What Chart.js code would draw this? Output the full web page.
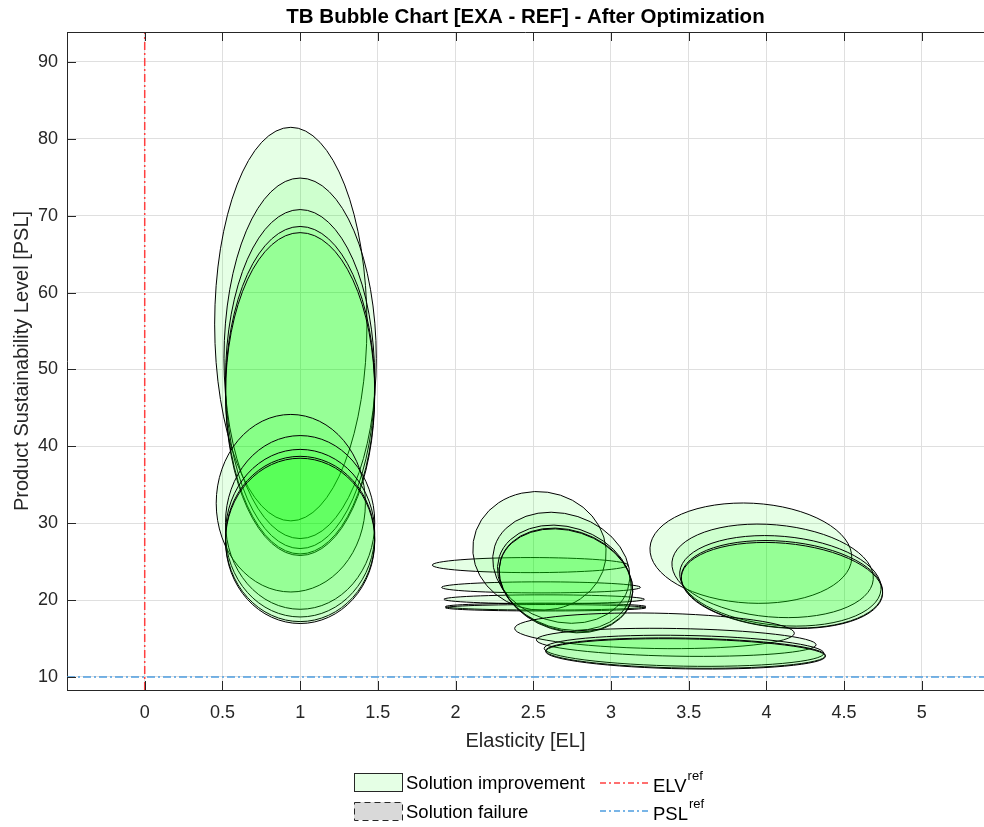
<!DOCTYPE html>
<html>
<head>
<meta charset="utf-8">
<script src="https://cdn.jsdelivr.net/npm/chart.js@4.4.1/dist/chart.umd.min.js"></script>
<style>
  html, body { margin: 0; padding: 0; background: #fff; }
  #wrap { width: 984px; height: 827px; }
</style>
</head>
<body>
<div id="wrap"><canvas id="bubbleChart"></canvas></div>
<script>
// Bubbles: centre (EL, PSL), half-axes in axis units, tilt in degrees
const centerEL = [0.94, 1.00, 1.00, 1.00, 1.00,
                  0.94, 1.00, 1.00, 1.00, 1.00,
                  2.48, 2.55, 2.57, 2.58, 2.58,
                  2.54, 2.68, 2.70, 2.71, 2.71,
                  3.90, 4.04, 4.09, 4.10, 4.10,
                  3.28, 3.42, 3.47, 3.48, 3.48];
const centerPSL = [55.9, 51.45, 48.75, 47.3, 46.8,
                   32.6, 30.1, 28.7, 27.95, 27.7,
                   24.55, 21.65, 20.1, 19.15, 19.0,
                   26.4, 24.2, 22.9, 22.6, 22.5,
                   26.1, 23.8, 22.5, 22.05, 21.9,
                   16.0, 14.5, 13.4, 13.1, 13.0];
const radiusEL = [0.49, 0.49, 0.48, 0.48, 0.48,
                  0.48, 0.48, 0.48, 0.48, 0.48,
                  0.63, 0.64, 0.645, 0.645, 0.645,
                  0.43, 0.45, 0.44, 0.44, 0.44,
                  0.65, 0.65, 0.65, 0.65, 0.65,
                  0.90, 0.90, 0.90, 0.90, 0.90];
const radiusPSL = [25.6, 23.45, 22.05, 21.3, 21.0,
                   11.55, 11.3, 10.9, 10.75, 10.75,
                   0.98, 0.72, 0.58, 0.45, 0.42,
                   7.7, 7.0, 6.6, 6.5, 6.5,
                   6.5, 6.0, 5.8, 5.6, 5.5,
                   2.3, 1.8, 2.0, 1.95, 1.95];
const tiltDeg = [0, 0, 0, 0, 0,
                 0, 0, 0, 0, 0,
                 0, 0, 0, 0, 0,
                 8, 18, 18, 18, 18,
                 3, 5, 5, 5, 5,
                 1, 1, 1, 1, 1];

// reference values
const elvRef = 0;
const pslRef = 10;

// axes
const xLimits = [-0.5, 5.4];
const yLimits = [8.3, 93.9];
const xTicks = [0, 0.5, 1, 1.5, 2, 2.5, 3, 3.5, 4, 4.5, 5];
const yTicks = [10, 20, 30, 40, 50, 60, 70, 80, 90];

const FONT = "'Liberation Sans', Arial, Helvetica, sans-serif";
const AXIS_COLOR = "#262626";
const GRID_COLOR = "#dfdfdf";
const FILL_OK = "rgba(0, 255, 0, 0.1)";
const ELV_COLOR = "#ff4040";
const PSL_COLOR = "#4d9de0";

// draws the bubbles as ellipses through the chart scales
const ellipsePlugin = {
	id: "ellipses",
	beforeDatasetsDraw(chart) {
		const { ctx, chartArea, scales: { x, y } } = chart;
		ctx.save();
		ctx.beginPath();
		ctx.rect(chartArea.left, chartArea.top, chartArea.width, chartArea.height);
		ctx.clip();
		centerEL.forEach((cx, i) => {
			const px = x.getPixelForValue(cx);
			const py = y.getPixelForValue(centerPSL[i]);
			const rx = Math.abs(x.getPixelForValue(cx + radiusEL[i]) - px);
			const ry = Math.abs(y.getPixelForValue(centerPSL[i] + radiusPSL[i]) - py);
			ctx.beginPath();
			ctx.ellipse(px, py, rx, ry, (tiltDeg[i] * Math.PI) / 180, 0, 2 * Math.PI);
			ctx.fillStyle = FILL_OK;
			ctx.fill();
			ctx.lineWidth = 1;
			ctx.strokeStyle = "#000";
			ctx.stroke();
		});
		ctx.restore();
	},
};

// matlab-like box: top border and inward tick marks
const boxPlugin = {
	id: "box",
	afterDatasetsDraw(chart) {
		const { ctx, chartArea: a, scales: { x, y } } = chart;
		ctx.save();
		ctx.strokeStyle = AXIS_COLOR;
		ctx.lineWidth = 1;
		ctx.beginPath();
		ctx.moveTo(a.left, a.top + 0.5);
		ctx.lineTo(a.right, a.top + 0.5);
		xTicks.forEach((v) => {
			const px = Math.round(x.getPixelForValue(v)) + 0.5;
			ctx.moveTo(px, a.bottom);
			ctx.lineTo(px, a.bottom - 9);
			ctx.moveTo(px, a.top);
			ctx.lineTo(px, a.top + 9);
		});
		yTicks.forEach((v) => {
			const py = Math.round(y.getPixelForValue(v)) + 0.5;
			ctx.moveTo(a.left, py);
			ctx.lineTo(a.left + 9, py);
		});
		ctx.stroke();
		ctx.restore();
	},
};

// two-column legend under the axes
const legendPlugin = {
	id: "matlabLegend",
	afterDraw(chart) {
		const { ctx } = chart;
		ctx.save();
		ctx.fillStyle = "#fff";
		ctx.fillRect(354, 773, 48, 18);
		ctx.fillStyle = FILL_OK;
		ctx.fillRect(354, 773, 48, 18);
		ctx.strokeStyle = AXIS_COLOR;
		ctx.lineWidth = 1;
		ctx.strokeRect(354.5, 773.5, 48, 18);

		ctx.fillStyle = "#d9d9d9";
		ctx.fillRect(354, 802, 48, 18);
		ctx.setLineDash([6, 4]);
		ctx.strokeRect(354.5, 802.5, 48, 18);
		ctx.setLineDash([]);

		ctx.font = "18.5px " + FONT;
		ctx.fillStyle = "#000";
		ctx.textBaseline = "middle";
		ctx.textAlign = "left";
		ctx.fillText("Solution improvement", 406, 784);
		ctx.fillText("Solution failure", 406, 813);

		const rows = [
			{ color: ELV_COLOR, y: 783, name: "ELV", ty: 787 },
			{ color: PSL_COLOR, y: 811, name: "PSL", ty: 815 },
		];
		rows.forEach((r) => {
			ctx.save();
			ctx.strokeStyle = r.color;
			ctx.lineWidth = 1.5;
			ctx.setLineDash([6, 3, 2, 3]);
			ctx.beginPath();
			ctx.moveTo(600, r.y);
			ctx.lineTo(648, r.y);
			ctx.stroke();
			ctx.restore();
			ctx.fillStyle = "#000";
			ctx.font = "18.5px " + FONT;
			ctx.fillText(r.name, 653, r.ty);
			const w = ctx.measureText(r.name).width;
			ctx.font = "13px " + FONT;
			ctx.fillText("ref", 653 + w + 1, r.ty - 11);
		});
		ctx.restore();
	},
};

const ctx = document.getElementById("bubbleChart").getContext("2d");
new Chart(ctx, {
	type: "scatter",
	data: {
		datasets: [
			{
				label: "ELV ref",
				data: [
					{ x: elvRef, y: yLimits[0] },
					{ x: elvRef, y: yLimits[1] },
				],
				showLine: true,
				borderColor: ELV_COLOR,
				borderWidth: 1.5,
				borderDash: [8, 3, 2, 3],
				pointRadius: 0,
			},
			{
				label: "PSL ref",
				data: [
					{ x: xLimits[0], y: pslRef },
					{ x: xLimits[1], y: pslRef },
				],
				showLine: true,
				borderColor: PSL_COLOR,
				borderWidth: 1.5,
				borderDash: [8, 3, 2, 3],
				pointRadius: 0,
			},
		],
	},
	options: {
		responsive: true,
		maintainAspectRatio: false,
		animation: false,
		layout: { padding: { left: 0, right: 0, top: 0, bottom: 73 } },
		plugins: {
			legend: { display: false },
			tooltip: { enabled: false },
			title: {
				display: true,
				fullSize: false,
				text: "TB Bubble Chart [EXA - REF] - After Optimization",
				color: "#000",
				font: { family: FONT, size: 20.5, weight: "bold", lineHeight: 1.2 },
				padding: { top: 5, bottom: 2.4 },
			},
		},
		scales: {
			x: {
				type: "linear",
				min: xLimits[0],
				max: xLimits[1],
				afterBuildTicks: (s) => {
					s.ticks = xTicks.map((v) => ({ value: v }));
				},
				afterFit: (s) => {
					s.height = 64;
				},
				grid: { color: GRID_COLOR, drawTicks: false },
				border: { display: true, color: AXIS_COLOR, width: 1 },
				ticks: {
					color: AXIS_COLOR,
					padding: 12,
					maxRotation: 0,
					font: { family: FONT, size: 18 },
					callback: (v) => String(v),
				},
				title: {
					display: true,
					text: "Elasticity [EL]",
					color: AXIS_COLOR,
					font: { family: FONT, size: 20 },
					padding: { top: 0, bottom: 1 },
				},
			},
			y: {
				type: "linear",
				min: yLimits[0],
				max: yLimits[1],
				afterBuildTicks: (s) => {
					s.ticks = yTicks.map((v) => ({ value: v }));
				},
				afterFit: (s) => {
					s.width = 67;
				},
				grid: { color: GRID_COLOR, drawTicks: false },
				border: { display: true, color: AXIS_COLOR, width: 1 },
				ticks: {
					color: AXIS_COLOR,
					padding: 9,
					font: { family: FONT, size: 18 },
					callback: (v) => String(v),
				},
				title: {
					display: true,
					text: "Product Sustainability Level [PSL]",
					color: AXIS_COLOR,
					font: { family: FONT, size: 20 },
					padding: { top: 10, bottom: 0 },
				},
			},
		},
	},
	plugins: [ellipsePlugin, boxPlugin, legendPlugin],
});
</script>
</body>
</html>
